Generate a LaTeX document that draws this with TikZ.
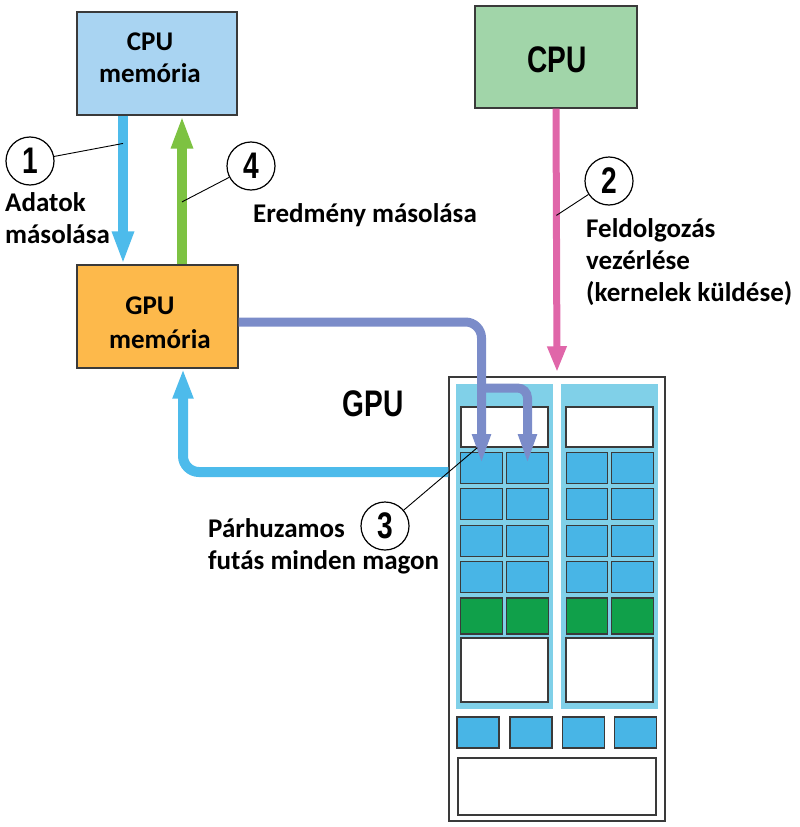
\documentclass[tikz,border=0pt]{standalone}
\usepackage{fontspec}
\setmainfont{Carlito}
\newfontfamily\condfont[FakeStretch=0.76]{Liberation Sans}
\usetikzlibrary{arrows.meta}
\definecolor{cpumemfill}{HTML}{A9D4F2}
\definecolor{cpufill}{HTML}{A1D5A9}
\definecolor{gpumemfill}{HTML}{FDB94B}
\definecolor{arrowblue}{HTML}{4DBBEB}
\definecolor{arrowgreen}{HTML}{7DC242}
\definecolor{arrowpink}{HTML}{E066A9}
\definecolor{arrowpurple}{HTML}{7B8CC9}
\definecolor{colfill}{HTML}{80D0E8}
\definecolor{coreblue}{HTML}{48B5E6}
\definecolor{coregreen}{HTML}{10A04A}
\definecolor{boxgray}{HTML}{3A3A3A}
\begin{document}
\begin{tikzpicture}[x=1pt,y=-1pt,
  membox/.style={draw=boxgray, line width=1.3pt, inner sep=0},
  lbl/.style={font=\bfseries\fontsize{27}{32}\selectfont, inner sep=0},
  biglbl/.style={font=\condfont\bfseries\fontsize{37}{37}\selectfont, inner sep=0},
  num/.style={circle, draw, line width=1.2pt, fill=white, minimum size=48pt, inner sep=0,
    font=\condfont\bfseries\fontsize{37}{37}\selectfont},
  leader/.style={line width=0.9pt},
  cell/.style={draw=boxgray, line width=1.4pt, inner sep=0},
  core/.style={cell, fill=coreblue, minimum width=41.5pt, minimum height=30.5pt},
  bigarrow/.style={line width=10pt, -{Triangle[width=20pt,length=33pt]}},
  pinkarrow/.style={draw=arrowpink, line width=7pt, -{Triangle[width=18pt,length=26pt]}},
  purplearrow/.style={draw=arrowpurple, line width=9pt, -{Triangle[width=17pt,length=30pt]}}
]
\useasboundingbox (0,0) rectangle (800,827);

% memory and CPU boxes
\node[membox, fill=cpumemfill, minimum width=160pt, minimum height=103pt] (cpumem) at (157,63.5) {};
\node[lbl, align=center] at (150,58) {CPU\\memória};
\node[membox, fill=gpumemfill, minimum width=161pt, minimum height=103pt] (gpumem) at (157.5,316.5) {};
\node[lbl] at (150,306) {GPU};
\node[lbl] at (160,339) {memória};
\node[membox, fill=cpufill, minimum width=162pt, minimum height=102pt] (cpu) at (556,57) {};
\node[biglbl] at (557,60) {CPU};

% GPU block
\node[draw=boxgray, line width=1.5pt, minimum width=216pt, minimum height=444pt, inner sep=0] (gpu) at (557,599) {};
\fill[colfill] (456,384) rectangle (553,709);
\fill[colfill] (561,384) rectangle (658,709);
\node[cell, fill=white, minimum width=87pt, minimum height=40pt] (topw1) at (504.5,427) {};
\node[cell, fill=white, minimum width=87pt, minimum height=40pt] (topw2) at (609.5,427) {};
\foreach \y [count=\r] in {468,504,541,577}
  \foreach \x [count=\c] in {481.5,527.5,587,632.5}
    \node[core] (c\r\c) at (\x,\y) {};
\foreach \x in {481.5,527.5,587,632.5}
  \node[cell, fill=coregreen, minimum width=41.5pt, minimum height=36pt] at (\x,616) {};
\node[cell, fill=white, minimum width=87pt, minimum height=64pt] (mem1) at (504.5,670) {};
\node[cell, fill=white, minimum width=87pt, minimum height=64pt] (mem2) at (609.5,670) {};
\foreach \x in {478,531,583.5,635.5}
  \node[cell, fill=coreblue, minimum width=42pt, minimum height=31pt] at (\x,732.5) {};
\node[cell, fill=white, minimum width=198pt, minimum height=57pt] (l2cache) at (557,786.5) {};
\node[biglbl] at (373,403.5) {GPU};

% texts (base anchor = baseline of the last line)
\node[lbl, anchor=base west, align=left] at (5,243) {Adatok\\másolása};
\node[lbl, anchor=base west] at (253,222) {Eredmény másolása};
\node[lbl, anchor=base west, align=left] at (586,301) {Feldolgozás\\vezérlése\\(kernelek küldése)};
\node[lbl, anchor=base west, align=left] at (208,569) {Párhuzamos\\futás minden magon};

% arrows
\draw[bigarrow, draw=arrowblue] ([xshift=-34pt]cpumem.south) -- coordinate[pos=0.187] (l1) ([xshift=-34.5pt]gpumem.north);
\draw[bigarrow, draw=arrowgreen] ([xshift=24.5pt]gpumem.north) -- coordinate[pos=0.42] (l4) ([xshift=25pt]cpumem.south);
\draw[pinkarrow] (cpu.south) -- coordinate[pos=0.405] (l2) ([yshift=4pt]gpu.north);
\coordinate (pY) at (0,322);
\coordinate (bY) at (0,388);
\coordinate (rY) at (0,472);
\draw[purplearrow, rounded corners=16pt] (gpumem.east |- pY) -| ([yshift=4pt]c11.center);
\draw[purplearrow, rounded corners=10pt] (c11.center |- bY) -| ([yshift=4pt]c12.center);
\draw[bigarrow, draw=arrowblue, -{Triangle[width=19pt,length=30pt]}, rounded corners=16pt] (gpu.west |- rY) -| ([xshift=25.5pt]gpumem.south);

% numbered markers
\node[num] (n1) at (30,161) {1};
\node[num] (n2) at (609,181) {2};
\node[num] (n3) at (385,526) {3};
\node[num] (n4) at (251,166) {4};
\coordinate (l3) at ([xshift=17pt]topw1.south west);
\draw[leader] (n1) -- (l1);
\draw[leader] (n2) -- (l2);
\draw[leader] (n3) -- (l3);
\draw[leader] (n4) -- (l4);
\end{tikzpicture}
\end{document}
